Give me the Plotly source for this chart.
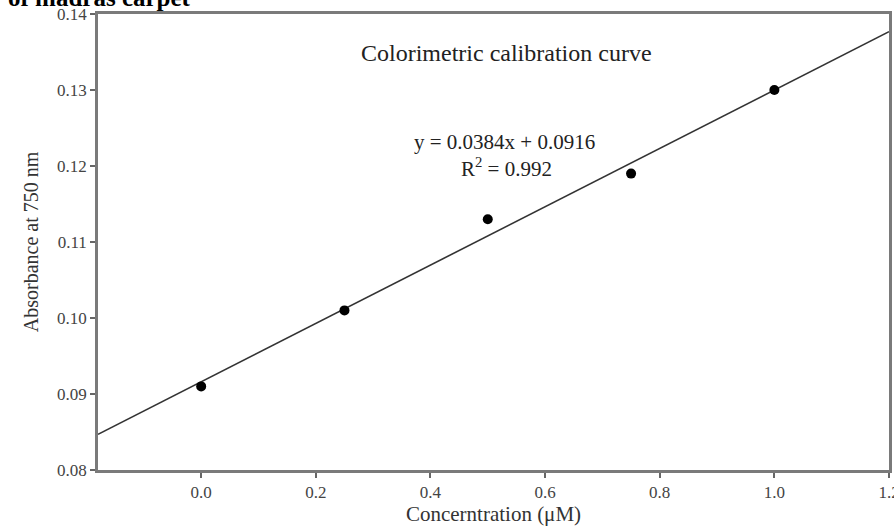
import plotly.graph_objects as go

# Data
concentration = [0.0, 0.25, 0.5, 0.75, 1.0]
absorbance = [0.091, 0.101, 0.113, 0.119, 0.130]
fit_slope = 0.0384
fit_intercept = 0.0916
x_range = [-0.18, 1.2]
y_range = [0.08, 0.14]
x_ticks = [0.0, 0.2, 0.4, 0.6, 0.8, 1.0, 1.2]
y_ticks = [0.08, 0.09, 0.10, 0.11, 0.12, 0.13, 0.14]

fit_x = x_range
fit_y = [fit_slope * v + fit_intercept for v in fit_x]

FONT = "Liberation Serif"

fig = go.Figure()
fig.add_trace(go.Scatter(x=fit_x, y=fit_y, mode="lines",
                         line=dict(color="#333333", width=1.6),
                         showlegend=False, hoverinfo="skip"))
fig.add_trace(go.Scatter(x=concentration, y=absorbance, mode="markers",
                         marker=dict(color="black", size=10),
                         showlegend=False))

axis_common = dict(showline=True, linecolor="#7a7a7a", linewidth=2.5, mirror=True,
                   ticks="outside", ticklen=5, tickwidth=2, tickcolor="#666666",
                   showgrid=False, zeroline=False, ticklabeloverflow="allow",
                   automargin=False,
                   tickfont=dict(family=FONT, size=17, color="#444444"))

fig.update_layout(
    width=894, height=529,
    margin=dict(l=98, r=5, t=14, b=59),
    paper_bgcolor="white", plot_bgcolor="white",
    font=dict(family=FONT, color="#222222"),
    xaxis=dict(range=x_range, tickvals=x_ticks, tickformat=".1f",
               title=dict(text="Concerntration (μM)", font=dict(family=FONT, size=21, color="#333333"),
                          standoff=4),
               **axis_common),
    yaxis=dict(range=y_range, tickvals=y_ticks, tickformat=".2f",
               title=dict(text="Absorbance at 750 nm", font=dict(family=FONT, size=20, color="#333333"),
                          standoff=14),
               **axis_common),
    annotations=[
        dict(text="Colorimetric calibration curve", x=0.533, y=0.1349, xref="x", yref="y",
             showarrow=False, font=dict(family=FONT, size=24, color="#222222")),
        dict(text="y = 0.0384x + 0.0916", x=0.530, y=0.1232, xref="x", yref="y",
             showarrow=False, font=dict(family=FONT, size=21, color="#222222")),
        dict(text="R<sup>2</sup> = 0.992", x=0.533, y=0.1198, xref="x", yref="y",
             showarrow=False, font=dict(family=FONT, size=21, color="#222222")),
        dict(text="<b>of madras carpet</b>", x=-0.116, y=1.036, xref="paper", yref="paper",
             xanchor="left", yanchor="middle", showarrow=False,
             font=dict(family=FONT, size=25, color="black")),
    ],
)

fig.write_html("out.html")
